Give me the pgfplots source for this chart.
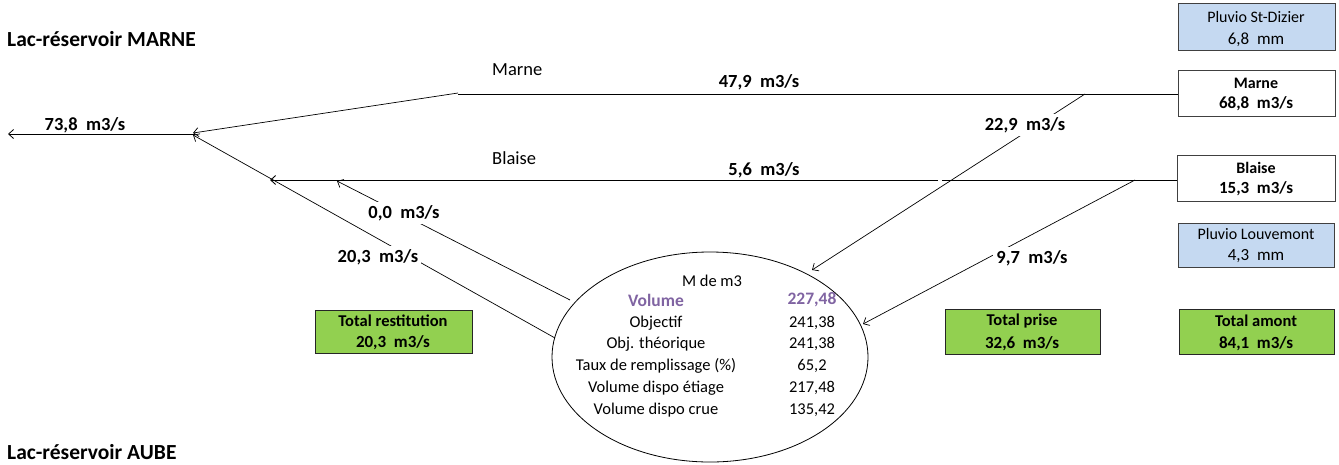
\documentclass[border=0pt]{standalone}
\usepackage{pgfplots}
\pgfplotsset{compat=1.18}
\usepackage{fontspec}
\setmainfont{Carlito}
\usetikzlibrary{arrows.meta}
\definecolor{boxblue}{RGB}{197,217,241}
\definecolor{boxgreen}{RGB}{146,208,80}
\definecolor{volpurple}{RGB}{128,100,162}
\tikzset{
  ttl/.style={font=\bfseries\fontsize{21.5bp}{24bp}\selectfont, anchor=base west, inner sep=0pt},
  riv/.style={font=\fontsize{18.5bp}{21bp}\selectfont, anchor=west, inner sep=0pt},
  flow/.style={font=\bfseries\fontsize{18.5bp}{21bp}\selectfont, inner sep=0pt},
  flowgap/.style={flow, fill=white, inner sep=3bp},
  bxs/.style={font=\fontsize{16bp}{19bp}\selectfont, inner sep=0pt},
  bxb/.style={font=\bfseries\fontsize{16bp}{19bp}\selectfont, inner sep=0pt},
  bxv/.style={font=\fontsize{17bp}{20bp}\selectfont, inner sep=0pt},
  bxvb/.style={font=\bfseries\fontsize{17bp}{20bp}\selectfont, inner sep=0pt},
  ell/.style={font=\fontsize{16.5bp}{19bp}\selectfont, inner sep=0pt},
  vol/.style={font=\bfseries\fontsize{17.5bp}{20bp}\selectfont, text=volpurple, inner sep=0pt},
  arr/.style={-{Straight Barb[length=5bp,width=9bp]}},
}
\begin{document}
\begin{tikzpicture}
\begin{axis}[
    width=1339bp, height=464bp, scale only axis,
    xmin=0, xmax=1339, ymin=0, ymax=464, y dir=reverse,
    hide axis, clip=false,
    every axis plot/.append style={black, line width=0.7bp, mark=none},
]
% cadre invisible : garde toute la surface de l'axe
\path (rel axis cs:0,0) rectangle (rel axis cs:1,1);

% axe principal vers l'aval
\addplot[arr, line width=0.8bp] coordinates {(195,134) (8,134)};
% Marne
\addplot[line width=0.9bp] coordinates {(1178,94) (458,94)};
\addplot[arr] coordinates {(458,93) (193,133)};
% Blaise
\addplot[line width=0.9bp] coordinates {(1177,180) (942,180)};
\addplot[arr, line width=0.9bp] coordinates {(938,180) (270,180)};
% prises vers le lac
\addplot[arr] coordinates {(1085,94) (812,270)};
\addplot[arr] coordinates {(1135,180) (863,324)};
% restitutions
\addplot[arr] coordinates {(570,300) (337,181)};
\addplot[arr] coordinates {(555,338) (193,135)};

% lac
\draw[line width=0.8bp] (axis cs:710,357) ellipse [x radius=158, y radius=105];

% cadres
\addplot[fill=boxblue, draw=black!75, line width=0.9bp] coordinates {(1178,3) (1335,3) (1335,50) (1178,50)} -- cycle;
\addplot[fill=white, draw=black!75, line width=0.9bp] coordinates {(1178,70) (1335,70) (1335,116) (1178,116)} -- cycle;
\addplot[fill=white, draw=black!75, line width=0.9bp] coordinates {(1177,155) (1335,155) (1335,201) (1177,201)} -- cycle;
\addplot[fill=boxblue, draw=black!75, line width=0.9bp] coordinates {(1178,223) (1334,223) (1334,267) (1178,267)} -- cycle;
\addplot[fill=boxgreen, draw=black!85, line width=0.9bp] coordinates {(315,310) (472,310) (472,353) (315,353)} -- cycle;
\addplot[fill=boxgreen, draw=black!85, line width=0.9bp] coordinates {(945,309) (1100,309) (1100,354) (945,354)} -- cycle;
\addplot[fill=boxgreen, draw=black!85, line width=0.9bp] coordinates {(1179,309) (1334,309) (1334,354) (1179,354)} -- cycle;

% titres
\node[ttl] at (axis cs:7,47) {Lac-réservoir MARNE};
\node[ttl] at (axis cs:7,459) {Lac-réservoir AUBE};
\node[riv] at (axis cs:492,70) {Marne};
\node[riv] at (axis cs:492,158) {Blaise};

% débits
\node[flow] at (axis cs:85,125) {73,8\ \ m3/s};
\node[flow] at (axis cs:759,82) {47,9\ \ m3/s};
\node[flow] at (axis cs:764,170) {5,6\ \ m3/s};
\node[flowgap] at (axis cs:1025,125) {22,9\ \ m3/s};
\node[flowgap] at (axis cs:1032,258) {9,7\ \ m3/s};
\node[flowgap] at (axis cs:404,213) {0,0\ \ m3/s};
\node[flowgap] at (axis cs:378,257) {20,3\ \ m3/s};

% textes des cadres
\node[bxs] at (axis cs:1256,17) {Pluvio St-Dizier};
\node[bxv] at (axis cs:1256,40) {6,8\ \ mm};
\node[bxb] at (axis cs:1256,83) {Marne};
\node[bxvb] at (axis cs:1256,104) {68,8\ \ m3/s};
\node[bxb] at (axis cs:1256,168) {Blaise};
\node[bxvb] at (axis cs:1256,189) {15,3\ \ m3/s};
\node[bxs] at (axis cs:1256,234) {Pluvio Louvemont};
\node[bxv] at (axis cs:1256,256) {4,3\ \ mm};
\node[bxb, font=\bfseries\fontsize{16.5bp}{19bp}\selectfont] at (axis cs:393,321) {Total restitution};
\node[bxvb] at (axis cs:393,343) {20,3\ \ m3/s};
\node[bxb, font=\bfseries\fontsize{16.5bp}{19bp}\selectfont] at (axis cs:1022,321) {Total prise};
\node[bxvb] at (axis cs:1022,344) {32,6\ \ m3/s};
\node[bxb, font=\bfseries\fontsize{16.5bp}{19bp}\selectfont] at (axis cs:1256,321) {Total amont};
\node[bxvb] at (axis cs:1256,344) {84,1\ \ m3/s};

% contenu du lac
\node[ell] at (axis cs:712,281) {M de m3};
\node[vol] at (axis cs:656,300) {Volume};
\node[vol] at (axis cs:812,300) {227,48};
\node[ell] at (axis cs:656,323) {Objectif};
\node[ell] at (axis cs:812,323) {241,38};
\node[ell] at (axis cs:656,344) {Obj. théorique};
\node[ell] at (axis cs:812,344) {241,38};
\node[ell] at (axis cs:656,366) {Taux de remplissage (\%)};
\node[ell] at (axis cs:812,366) {65,2};
\node[ell] at (axis cs:656,388) {Volume dispo étiage};
\node[ell] at (axis cs:812,388) {217,48};
\node[ell] at (axis cs:656,410) {Volume dispo crue};
\node[ell] at (axis cs:812,410) {135,42};
\end{axis}
\end{tikzpicture}
\end{document}
